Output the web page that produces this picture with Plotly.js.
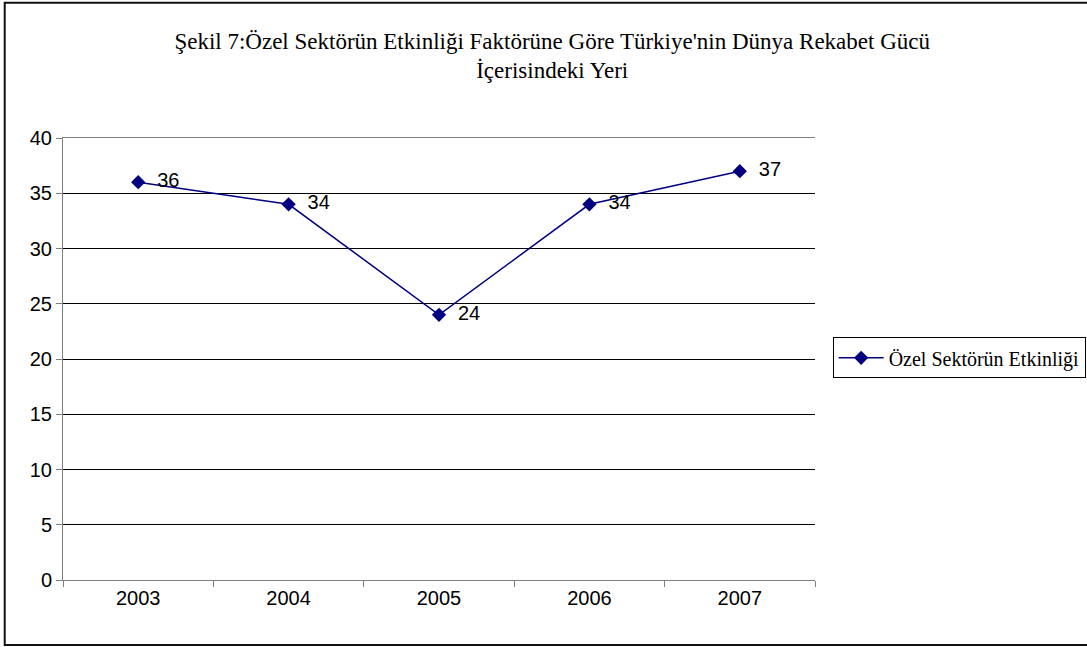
<!DOCTYPE html>
<html><head><meta charset="utf-8">
<script src="https://cdn.plot.ly/plotly-3.0.1.min.js"></script>
<style>html,body{margin:0;padding:0;background:#fff}#c{width:1087px;height:647px}</style>
</head><body><div id="c"></div>
<script>
const years = ['2003','2004','2005','2006','2007'];
const values = [36, 34, 24, 34, 37];
const seriesName = 'Özel Sektörün Etkinliği';
const titleText = "Şekil 7:Özel Sektörün Etkinliği Faktörüne Göre Türkiye'nin Dünya Rekabet Gücü<br>İçerisindeki Yeri";

const trace = {
  x: years, y: values, type: 'scatter', mode: 'lines+markers+text',
  name: seriesName,
  text: values.map(v => '  ' + v), textposition: 'middle right',
  textfont: {family: 'Liberation Sans, Arial', size: 20, color: '#000'},
  line: {color: '#000080', width: 1.5},
  marker: {symbol: 'diamond', size: 11, color: '#000080'},
  cliponaxis: false, hoverinfo: 'none'
};
const layout = {
  width: 1087, height: 647,
  margin: {l: 63, r: 272, t: 138, b: 67},
  paper_bgcolor: '#fff', plot_bgcolor: '#fff',
  title: {text: titleText, font: {family: 'Liberation Serif, Times New Roman', size: 23, color: '#000'},
          x: 0.508, xref: 'container', xanchor: 'center', y: 0.925, yref: 'container', yanchor: 'middle'},
  xaxis: {type: 'category', range: [-0.5, 4.5], tickson: 'boundaries', ticks: 'outside', ticklen: 6,
          tickcolor: '#808080', showline: true, linecolor: '#808080', linewidth: 1, mirror: true,
          showgrid: false, zeroline: false,
          tickfont: {family: 'Liberation Sans, Arial', size: 20, color: '#000'}},
  yaxis: {range: [0, 40], dtick: 5, ticks: 'outside', ticklen: 6, tickcolor: '#808080',
          showline: true, linecolor: '#808080', linewidth: 1, showgrid: true, gridcolor: '#000', gridwidth: 1,
          zeroline: false, tickfont: {family: 'Liberation Sans, Arial', size: 20, color: '#000'}},
  showlegend: true,
  legend: {xref: 'container', yref: 'container', x: 0.766, y: 0.447, xanchor: 'left', yanchor: 'middle',
           bordercolor: '#000', borderwidth: 1,
           font: {family: 'Liberation Serif, Times New Roman', size: 20, color: '#000'}, itemwidth: 45},
  shapes: [{type: 'rect', xref: 'paper', yref: 'paper', x0: -0.0775, x1: 1.37, y0: -0.147, y1: 1.306,
            line: {color: '#111', width: 2}, fillcolor: 'rgba(0,0,0,0)', layer: 'below'}]
};
Plotly.newPlot('c', [trace], layout, {staticPlot: true});
</script></body></html>
